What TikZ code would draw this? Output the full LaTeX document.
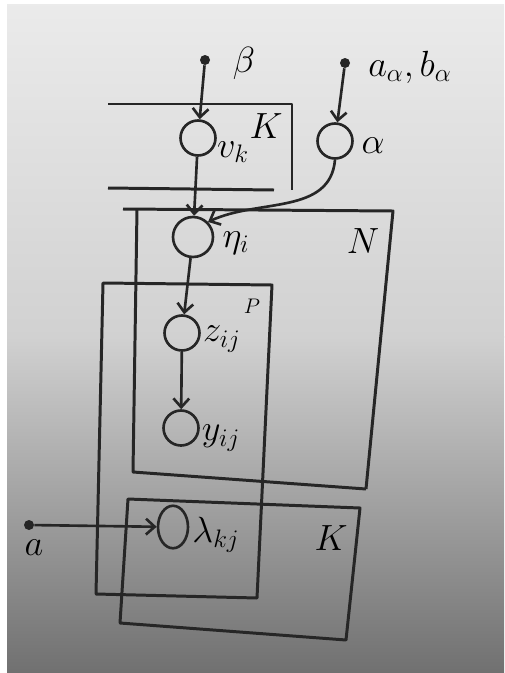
\documentclass[tikz,border=0pt]{standalone}
\usepackage{amsmath, amssymb}
\usepackage{xcolor}
\usetikzlibrary{shapes.geometric,arrows.meta,positioning}

\begin{document}
\begin{tikzpicture}[
        x=0.02cm, y=-0.02cm,
        var/.style={
            circle,
            draw=black!85,
            line width=1.5pt,
            minimum size=0.7cm,
            inner sep=0pt
        },
        hyper/.style={
            circle,
            fill=black!85,
            minimum size=0.2cm,
            inner sep=0pt
        },
        edge/.style={
            -{Straight Barb[length=5pt,width=9pt]},
            line width=1.5pt,
            draw=black!85
        },
        plate/.style={
            line width=1.7pt,
            draw=black!85,
            line join=round
        },
        lbl/.style={
            font=\fontsize{20}{24}\selectfont,
            inner sep=0pt
        }
    ]
        % Paper
        \useasboundingbox (0,0) rectangle (504,673);
        \fill[white] (0,0) rectangle (504,673);
        \shade[top color=gray!16, bottom color=gray!36] (7,4) rectangle (504,337);
        \shade[top color=gray!36, bottom color=gray!88!black] (7,336) rectangle (504,673);

        % Plates
        \draw[plate] (108,104) -- (292,104) -- (292,190);
        \draw[plate] (108,188) -- (274,190);
        \draw[plate] (123,209) -- (393,211) -- (366,489);
        \draw[plate] (137,209) -- (133,472) -- (366,489);
        \draw[plate] (103,283) -- (272,285) -- (257,598) -- (96,594) -- cycle;
        \draw[plate] (128,499) -- (360,508) -- (346,640) -- (120,623) -- cycle;

        % Plate labels
        \node[lbl] (pK1) at (266,126) {$K$};
        \node[lbl] (pN) at (363,241) {$N$};
        \node[lbl, font=\fontsize{12}{14}\selectfont] (pP) at (252,306) {$P$};
        \node[lbl] (pK2) at (331,538) {$K$};

        % Hyperparameters
        \node[hyper] (hb) at (205,60) {};
        \node[hyper] (ha) at (345,63) {};
        \node[hyper] (hl) at (29,525) {};
        \node[lbl] (lb) at (244,63) {$\beta$};
        \node[lbl] (la) at (410,67) {$a_\alpha,b_\alpha$};
        \node[lbl] (ll) at (34,548) {$a$};

        % Variables
        \node[var] (v) at (198,138) {};
        \node[var] (alpha) at (335,141) {};
        \node[var, minimum width=0.8cm] (eta) at (193,237) {};
        \node[var] (z) at (182,333) {};
        \node[var] (y) at (181,428) {};
        \node[var, ellipse, minimum width=0.6cm, minimum height=0.85cm] (lam) at (173,527) {};

        % Variable labels
        \node[lbl] (lv) at (233,152) {$v_k$};
        \node[lbl] (lalpha) at (373,146) {$\alpha$};
        \node[lbl] (leta) at (236,243) {$\eta_i$};
        \node[lbl] (lz) at (222,339) {$z_{ij}$};
        \node[lbl] (ly) at (221,438) {$y_{ij}$};
        \node[lbl] (llam) at (216,535) {$\lambda_{kj}$};

        % Edges
        \draw[edge] (hb) -- (v);
        \draw[edge] (ha) -- (alpha);
        \draw[edge] (v) -- (eta);
        \draw[edge] (alpha.south) to[out=-95, in=25] (eta.north east);
        \draw[edge] (eta) -- (z);
        \draw[edge] (z) -- (y);
        \draw[edge] (hl) -- (lam);
    \end{tikzpicture}
\end{document}
